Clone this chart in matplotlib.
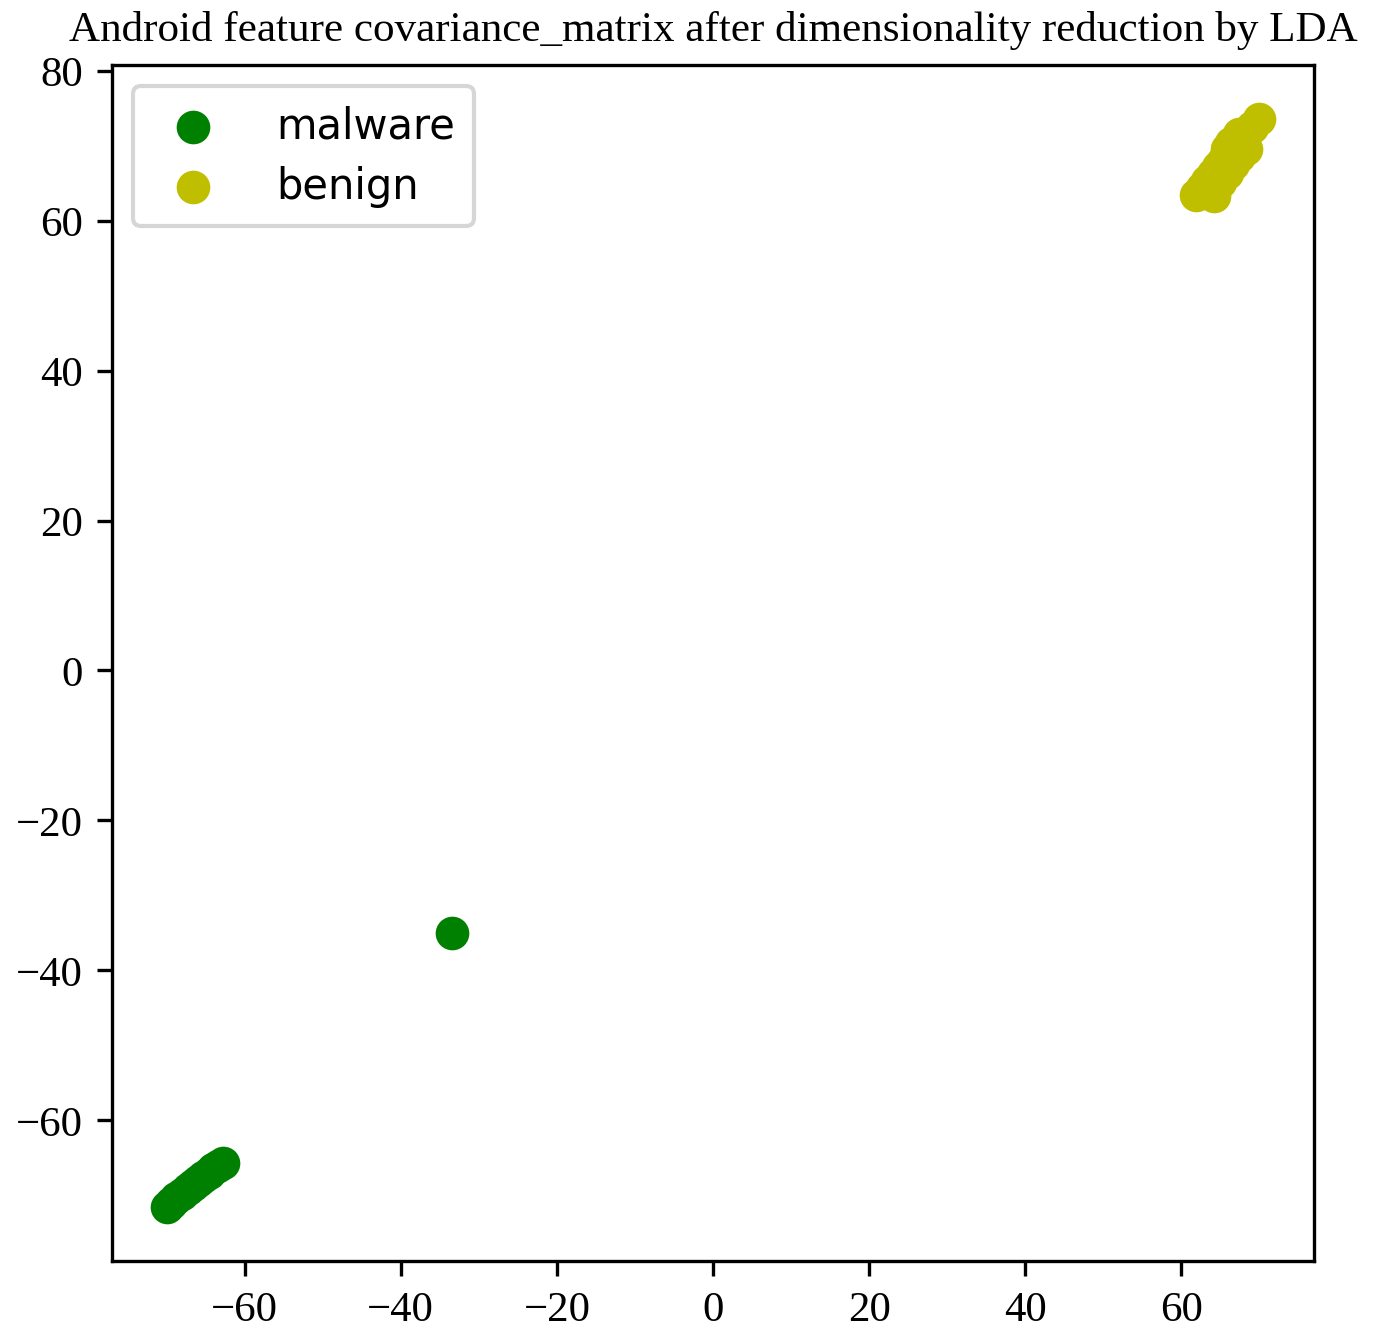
import matplotlib
matplotlib.use('Agg')
import matplotlib.pyplot as plt

# LDA projection
malware_x = [-70.0, -69.5, -68.8, -68.0, -67.3, -66.6, -66.0, -65.3, -64.6, -64.0, -63.4, -62.8, -33.5]
malware_y = [-71.5, -71.0, -70.4, -69.8, -69.2, -68.6, -68.1, -67.6, -67.0, -66.5, -66.1, -65.7, -35.0]

benign_x = [61.9, 62.6, 63.3, 64.0, 64.7, 65.4, 66.1, 66.8, 67.5, 68.2, 69.0, 70.0,
            64.2, 64.9, 65.8, 66.6, 67.4, 68.3, 65.8, 66.4, 67.4]
benign_y = [63.4, 64.4, 65.3, 66.2, 67.1, 68.0, 68.9, 69.8, 70.6, 71.5, 72.5, 73.5,
            63.3, 65.2, 66.4, 67.5, 68.6, 69.6, 69.6, 70.4, 71.5]

title = 'Android feature covariance_matrix after dimensionality reduction by LDA'

serif = ['Liberation Serif', 'DejaVu Serif']

fig = plt.figure(figsize=(1377 / 300, 1327 / 300), dpi=300)
ax = fig.add_axes([112 / 1377, 1 - 1262 / 1327, (1314 - 112) / 1377, (1262 - 66) / 1327])

ax.scatter(malware_x, malware_y, c='g', s=50, label='malware')
ax.scatter(benign_x, benign_y, c='y', s=50, label='benign')

ax.set_title(title, family=serif, fontsize=10.35, pad=6)
for lab in ax.get_xticklabels() + ax.get_yticklabels():
    lab.set_family(serif)
    lab.set_fontsize(10.3)

ax.legend(loc='upper left', prop={'family': 'DejaVu Sans', 'size': 10},
          handletextpad=1.0, labelspacing=0.45, borderpad=0.45)

fig.savefig('out.png', dpi=300)
